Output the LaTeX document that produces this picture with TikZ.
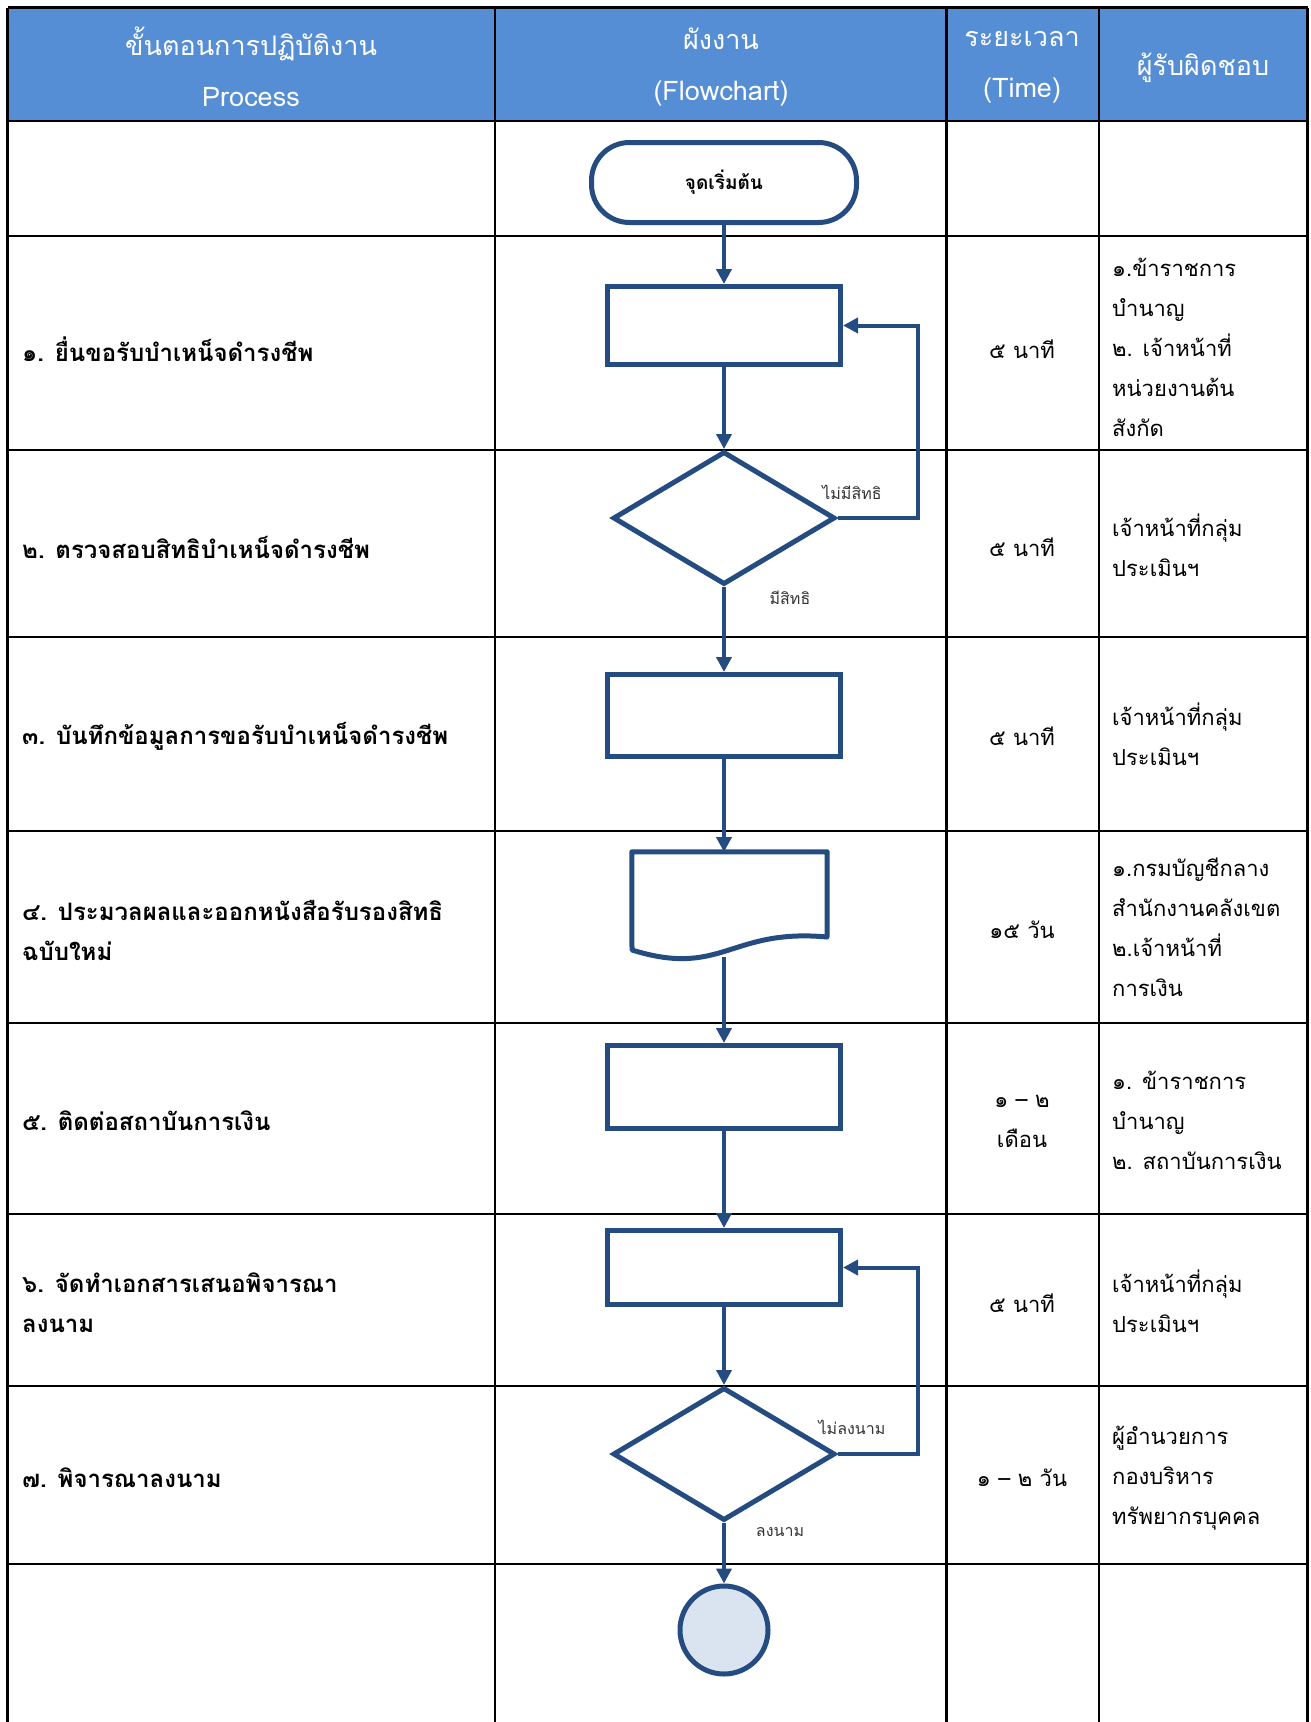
\documentclass[tikz,border=0pt]{standalone}
\usepackage{fontspec}
\setmainfont[Script=Thai]{Loma}
\usetikzlibrary{shapes.geometric,arrows.meta,positioning}

\definecolor{headblue}{RGB}{85,142,213}
\definecolor{flowblue}{RGB}{36,76,128}
\definecolor{endfill}{RGB}{218,227,240}

\tikzset{
  rowline/.style={line width=2.5pt, black},
  headtext/.style={text=white, align=center, font=\fontsize{27}{51}\selectfont},
  steptext/.style={anchor=west, align=left, inner sep=0pt, font=\bfseries\fontsize{24}{40}\selectfont},
  timetext/.style={align=center, inner sep=0pt, font=\fontsize{22}{40}\selectfont},
  ownertext/.style={anchor=west, align=left, inner sep=0pt, font=\fontsize{22}{40}\selectfont},
  terminal/.style={draw=flowblue, line width=5pt, rounded corners=38pt, minimum width=265pt, minimum height=80pt, font=\bfseries\fontsize{19}{20}\selectfont},
  process/.style={draw=flowblue, line width=5pt, minimum width=233pt, minimum height=80pt},
  decision/.style={draw=flowblue, line width=5pt, diamond, aspect=1.67, minimum width=222pt, minimum height=133pt, inner sep=0pt},
  flowline/.style={draw=flowblue, line width=4pt, -{Triangle[length=15pt,width=15pt]}},
  branch/.style={inner sep=0pt, text=black!80, font=\fontsize{16}{18}\selectfont},
}

\begin{document}
\begin{tikzpicture}[x=1pt,y=-1pt]
  \useasboundingbox (0,0) rectangle (1311,1722);

  % header
  \fill[headblue] (7.5,7.5) rectangle (1307.5,121);
  \foreach \yy in {7.5,121,236,450,637,831,1023,1214,1386,1564}
    \draw[rowline] (7.5,\yy) -- (1307.5,\yy);
  \foreach \xx in {7.5,495,946.5,1099,1307.5}
    \draw[rowline] (\xx,7.5) -- (\xx,1722);

  \node[headtext] (hstep) at (251,67) {ขั้นตอนการปฏิบัติงาน\\Process};
  \node[headtext] (hflow) at (721,67) {ผังงาน\\(Flowchart)};
  \node[headtext] (htime) at (1022,67) {ระยะเวลา\\(Time)};
  \node[headtext] (hwho) at (1203,68) {ผู้รับผิดชอบ};

  % steps
  \node[steptext] (t1) at (22,349) {๑. ยื่นขอรับบำเหน็จดำรงชีพ};
  \node[steptext] (t2) at (22,547) {๒. ตรวจสอบสิทธิบำเหน็จดำรงชีพ};
  \node[steptext] (t3) at (22,736) {๓. บันทึกข้อมูลการขอรับบำเหน็จดำรงชีพ};
  \node[steptext] (t4) at (22,930) {๔. ประมวลผลและออกหนังสือรับรองสิทธิ\\ฉบับใหม่};
  \node[steptext] (t5) at (22,1121) {๕. ติดต่อสถาบันการเงิน};
  \node[steptext] (t6) at (22,1303) {๖. จัดทำเอกสารเสนอพิจารณา\\ลงนาม};
  \node[steptext] (t7) at (22,1478) {๗. พิจารณาลงนาม};

  % time
  \node[timetext] (m1) at (1022,349) {๕ นาที};
  \node[timetext] (m2) at (1022,547) {๕ นาที};
  \node[timetext] (m3) at (1022,736) {๕ นาที};
  \node[timetext] (m4) at (1022,930) {๑๕ วัน};
  \node[timetext] (m5) at (1022,1121) {๑ – ๒\\เดือน};
  \node[timetext] (m6) at (1022,1303) {๕ นาที};
  \node[timetext] (m7) at (1022,1478) {๑ – ๒ วัน};

  % who
  \node[ownertext] (w1) at (1112,347) {๑.ข้าราชการ\\บำนาญ\\๒. เจ้าหน้าที่\\หน่วยงานต้น\\สังกัด};
  \node[ownertext] (w2) at (1112,545) {เจ้าหน้าที่กลุ่ม\\ประเมินฯ};
  \node[ownertext] (w3) at (1112,734) {เจ้าหน้าที่กลุ่ม\\ประเมินฯ};
  \node[ownertext] (w4) at (1112,927) {๑.กรมบัญชีกลาง\\สำนักงานคลังเขต\\๒.เจ้าหน้าที่\\การเงิน};
  \node[ownertext] (w5) at (1112,1120) {๑. ข้าราชการ\\บำนาญ\\๒. สถาบันการเงิน};
  \node[ownertext] (w6) at (1112,1301) {เจ้าหน้าที่กลุ่ม\\ประเมินฯ};
  \node[ownertext] (w7) at (1112,1478) {ผู้อำนวยการ\\กองบริหาร\\ทรัพยากรบุคคล};

  % flowchart
  \node[terminal] (start) at (724,182.5) {จุดเริ่มต้น};
  \node[process, minimum height=78pt] (s1) at (724,325.5) {};
  \node[decision] (d1) at (724,518) {};
  \node[process, minimum height=82pt] (s3) at (724,715.5) {};
  \node[minimum width=195pt, minimum height=100pt, inner sep=0pt] (s4) at (729.5,902) {};
  \draw[flowblue, line width=5pt, line join=round]
    (s4.north west) -- (s4.north east) -- (827,937)
    .. controls (730,928) and (722,978) .. (632,950) -- cycle;
  \coordinate (s4in) at (724,852);
  \coordinate (s4out) at (724,957);
  \node[process, minimum height=83pt] (s5) at (724,1087) {};
  \node[process, minimum height=74pt] (s6) at (724,1267.5) {};
  \node[decision] (d2) at (724,1454) {};
  \node[circle, draw=flowblue, fill=endfill, line width=5pt, minimum size=88pt, inner sep=0pt] (stop) at (724,1630) {};

  \draw[flowline] (start) -- (s1);
  \draw[flowline] (s1) -- (d1);
  \draw[flowline] (d1.east) -- (918,518) -- (918,|-s1.east) -- (s1.east);
  \draw[flowline] (d1) -- (s3);
  \draw[flowline] (s3) -- (s4in);
  \draw[flowline] (s4out) -- (s5);
  \draw[flowline] (s5) -- (s6);
  \draw[flowline] (s6) -- (d2);
  \draw[flowline] (d2.east) -- (918,1454) -- (918,|-s6.east) -- (s6.east);
  \draw[flowline] (d2) -- (stop);

  \node[branch] (no1) at (852,492) {ไม่มีสิทธิ};
  \node[branch] (yes1) at (790,598) {มีสิทธิ};
  \node[branch] (no2) at (852,1427) {ไม่ลงนาม};
  \node[branch] (yes2) at (780,1532) {ลงนาม};
\end{tikzpicture}
\end{document}
